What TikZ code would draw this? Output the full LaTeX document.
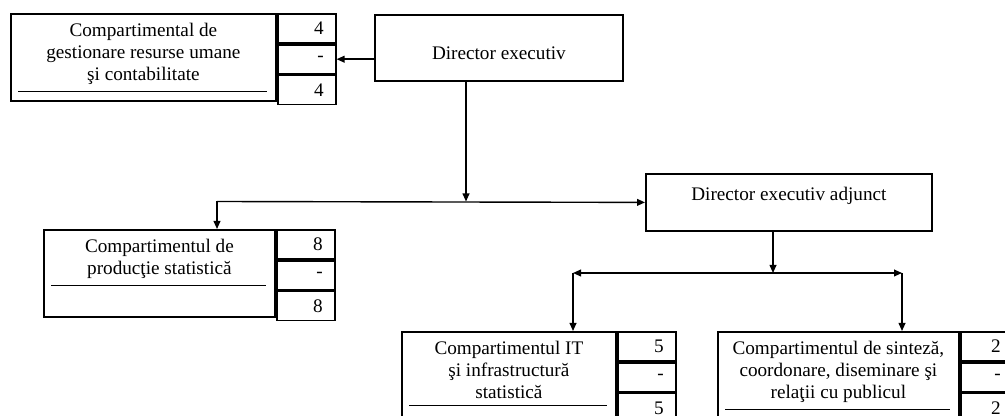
\documentclass[tikz,border=0pt]{standalone}
\usepackage{fontspec}
\setmainfont{Liberation Serif}
\usetikzlibrary{positioning,arrows.meta}

\begin{document}
\begin{tikzpicture}[x=0.5pt,y=-0.5pt,
    font=\fontsize{9.6}{11}\selectfont,
    >={Triangle[length=4pt,width=3.4pt]},
    mainbox/.style={draw,line width=0.9pt,minimum height=43.5pt,inner sep=0pt},
    txt/.style={align=center,inner sep=1pt},
    numbox/.style={draw,line width=0.9pt,minimum height=14.5pt,text width=17pt,
      align=right,inner xsep=6pt,inner ysep=0pt},
    headbox/.style={draw,line width=0.9pt,anchor=north west,inner sep=0pt},
    link/.style={line width=0.7pt}]
  \useasboundingbox (0,0) rectangle (1005,416);
  \def\compart#1#2#3#4#5#6#7{
    \node[mainbox,minimum width=#3,anchor=north west] (#1) at #2 {};
    \node[txt,below=4pt of #1.north] (#1t) {#4};
    \draw (#1t.south -| #1.west) ++(4pt,-2pt) -- ++(#3-8pt,0);
    \node[numbox,anchor=north west] (#1a) at (#1.north east) {#5};
    \node[numbox,below=0pt of #1a] (#1b) {#6};
    \node[numbox,below=0pt of #1b] (#1c) {#7};
  }
  % top level
  \node[headbox,minimum width=124pt,minimum height=33pt,text height=12pt] (dirx) at (374,14) {Director executiv};
  \node[headbox,minimum width=143pt,minimum height=28.5pt,text depth=9pt] (adj) at (645,173) {Director executiv adjunct};
  % compartments
  \compart{hr}{(10,13)}{132.5pt}{Compartimental de\\gestionare resurse umane\\şi contabilitate}{4}{-}{4}
  \compart{prod}{(43,229)}{115.5pt}{Compartimentul de\\producţie statistică}{8}{-}{8}
  \compart{it}{(401,331)}{107pt}{Compartimentul IT\\şi infrastructură\\statistică}{5}{-}{5}
  \begin{scope}[numbox/.append style={text width=14pt}]
    \compart{sint}{(717,331)}{120.5pt}{Compartimentul de sinteză,\\coordonare, diseminare şi\\relaţii cu publicul}{2}{-}{2}
  \end{scope}
  % links
  \draw[link,->] (dirx.west |- hrb) -- (hrb.east);
  \coordinate (j1) at (466,201.5);
  \coordinate (j1l) at (217,201.5);
  \draw[link,->] (dirx.south -| j1) -- (j1);
  \draw[link,->] (j1l) -- (adj.west);
  \draw[link,->] (j1l) -- (prod.north -| j1l);
  \coordinate (j2) at (773,273);
  \coordinate (j2l) at (573,273);
  \coordinate (j2r) at (902,273);
  \draw[link,->] (adj.south -| j2) -- (j2);
  \draw[link,<->] (j2l) -- (j2r);
  \draw[link,->] (j2l) -- (it.north -| j2l);
  \draw[link,->] (j2r) -- (sint.north -| j2r);
\end{tikzpicture}
\end{document}
